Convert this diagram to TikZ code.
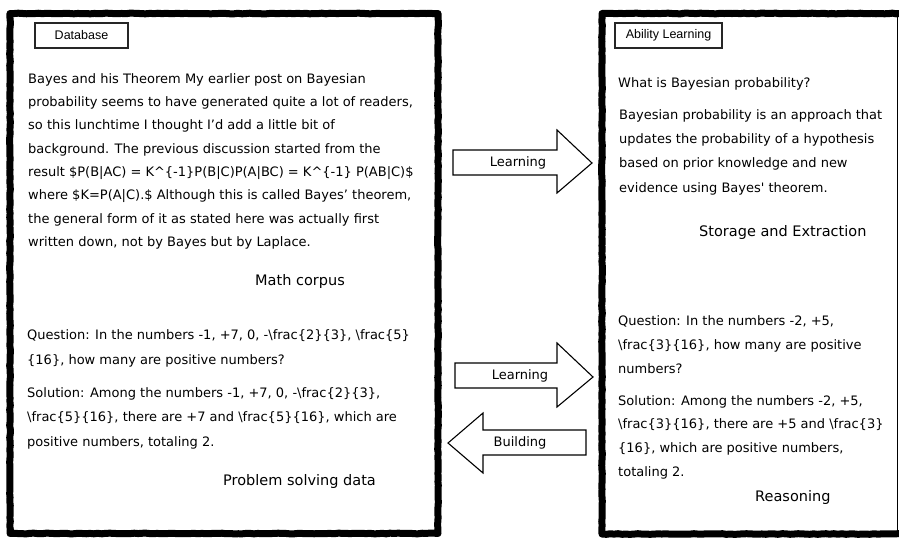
\documentclass[tikz,border=0pt]{standalone}
\usepackage{fontspec}
\setmainfont{DejaVu Sans}
\newfontfamily\labelfont{Liberation Sans}
\usetikzlibrary{decorations.pathmorphing}
\newcommand{\BSL}{\textbackslash}
\newcommand{\TopStrut}{\rule{0pt}{17pt}}
\begin{document}
\begin{tikzpicture}[x=1pt,y=-1pt,
  border/.style={line width=7pt, line join=round, decorate,
    decoration={random steps,segment length=4pt,amplitude=0.35pt}},
  para/.style={anchor=north west, inner sep=0pt, align=left,
    font=\fontsize{13}{#1}\selectfont},
  title/.style={anchor=base west, inner sep=0pt, font=\fontsize{14.5}{17}\selectfont},
  single/.style={anchor=base west, inner sep=0pt, font=\fontsize{13}{16}\selectfont},
  labelbox/.style={draw=black!85, line width=1.1pt, inner sep=0pt,
    minimum height=25pt, font=\labelfont\fontsize{12.5}{14}\selectfont},
  blockarrow/.style={draw=black, line width=1.1pt, fill=white, line join=miter},
  arrowtext/.style={inner sep=0pt, font=\fontsize{13}{15}\selectfont}]
\useasboundingbox (0,0) rectangle (899,538);
\fill[white] (0,0) rectangle (899,538);

% panels
\draw[border] (10,13.5) rectangle (438,533.5);
\draw[border] (912,13.5) -- (602,13.5) -- (602,534) -- (912,534);
\draw[line width=1.2pt] (897.5,13.5) -- (897.5,534);

% tab labels
\node[labelbox, minimum width=93pt] (db) at (81.5,35.5) {Database};
\node[labelbox, minimum width=107pt] (al) at (668.5,35.5) {Ability Learning};

% left panel text
\node[para=23.3] (corpus) at (28,66) {\TopStrut Bayes and his Theorem My earlier post on Bayesian\\
probability seems to have generated quite a lot of readers,\\
so this lunchtime I thought I’d add a little bit of\\
background. The previous discussion started from the\\
result \$P(B|AC) = K\^{}\{-1\}P(B|C)P(A|BC) = K\^{}\{-1\} P(AB|C)\$\\
where \$K=P(A|C).\$ Although this is called Bayes’ theorem,\\
the general form of it as stated here was actually first\\
written down, not by Bayes but by Laplace.};
\node[title] (mc) at (255,285) {Math corpus};

\node[para=24.8] (lq) at (27,322) {\TopStrut Question: In the numbers -1, +7, 0, -\BSL frac\{2\}\{3\}, \BSL frac\{5\}\\
\{16\}, how many are positive numbers?};
\node[para=24.5] (ls) at (27,380) {\TopStrut Solution: Among the numbers -1, +7, 0, -\BSL frac\{2\}\{3\},\\
\BSL frac\{5\}\{16\}, there are +7 and \BSL frac\{5\}\{16\}, which are\\
positive numbers, totaling 2.};
\node[title] (psd) at (223,485) {Problem solving data};

% right panel text
\node[single] (wq) at (618,87) {What is Bayesian probability?};
\node[para=24.3] (wa) at (619,102) {\TopStrut Bayesian probability is an approach that\\
updates the probability of a hypothesis\\
based on prior knowledge and new\\
evidence using Bayes\textquotesingle\ theorem.};
\node[title] (se) at (699,236) {Storage and Extraction};

\node[para=24] (rq) at (618,308) {\TopStrut Question: In the numbers -2, +5,\\
\BSL frac\{3\}\{16\}, how many are positive\\
numbers?};
\node[para=23.7] (rs) at (618,388) {\TopStrut Solution: Among the numbers -2, +5,\\
\BSL frac\{3\}\{16\}, there are +5 and \BSL frac\{3\}\\
\{16\}, which are positive numbers,\\
totaling 2.};
\node[title] (rea) at (755,501) {Reasoning};

% block arrows
\draw[blockarrow] (453,150) -- (557,150) -- (557,130) -- (592,163) -- (557,193) -- (557,175) -- (453,175) -- cycle;
\node[arrowtext] (l1) at (518,163) {Learning};
\draw[blockarrow] (455,363) -- (557,363) -- (557,343) -- (593,377) -- (557,407) -- (557,388) -- (455,388) -- cycle;
\node[arrowtext] (l2) at (520,376) {Learning};
\draw[blockarrow] (586,430) -- (483,430) -- (483,413) -- (448,443) -- (483,473) -- (483,455) -- (586,455) -- cycle;
\node[arrowtext] (b1) at (520,443) {Building};
\end{tikzpicture}
\end{document}
